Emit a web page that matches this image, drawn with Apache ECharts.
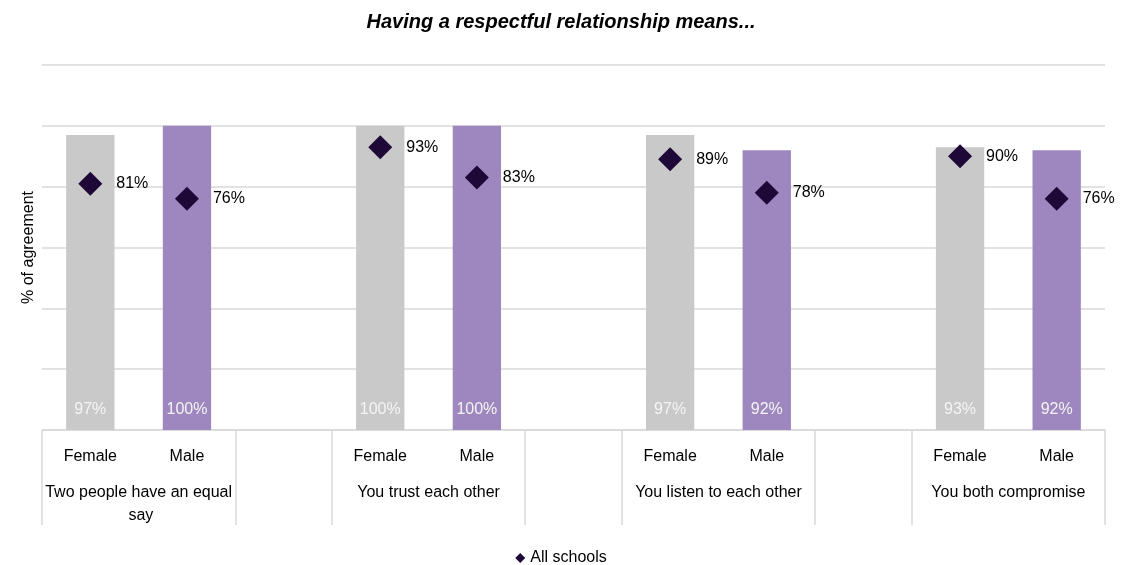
<!DOCTYPE html>
<html>
<head>
<meta charset="utf-8">
<script src="https://cdn.jsdelivr.net/npm/echarts@6/dist/echarts.min.js"></script>
<style>
  html, body { margin: 0; padding: 0; background: #fff; }
  #chart { width: 1122px; height: 565px; }
</style>
</head>
<body>
<div id="chart"></div>
<script>
// Statements and the responses by gender
const groupLabels = ['Two people have an equal say', 'You trust each other', 'You listen to each other', 'You both compromise'];
const genderLabels = ['Female', 'Male'];
const femaleValues = [97, 100, 97, 93];
const maleValues = [100, 100, 92, 92];
// "All schools" benchmark for each gender bar
const allSchoolsFemale = [81, 93, 89, 90];
const allSchoolsMale = [76, 83, 78, 76];
const yTicks = [0, 20, 40, 60, 80, 100, 120];

const FONT = "'Liberation Sans', Arial, sans-serif";
const GREY = '#c9c9c9';
const PURPLE = '#9e87bf';
const DIAMOND = '#1d0838';

// Slots: Female, Male, spacer, Female, Male, spacer, ... (no spacer after the last group)
const categories = [];
const barData = [];
const pointData = [];
const groupStart = [];   // category index where each group begins
const boundaryIdx = new Set([0]);
groupLabels.forEach((g, i) => {
  groupStart.push(categories.length);
  categories.push(genderLabels[0]);
  barData.push({ value: femaleValues[i], itemStyle: { color: GREY } });
  pointData.push(allSchoolsFemale[i]);
  categories.push(genderLabels[1]);
  barData.push({ value: maleValues[i], itemStyle: { color: PURPLE } });
  pointData.push(allSchoolsMale[i]);
  boundaryIdx.add(categories.length);
  if (i < groupLabels.length - 1) {
    categories.push('');
    barData.push('-');
    pointData.push('-');
    boundaryIdx.add(categories.length);
  }
});
const slotCount = categories.length;

const chart = echarts.init(document.getElementById('chart'));
chart.setOption({
  animation: false,
  textStyle: { fontFamily: FONT },
  title: {
    text: 'Having a respectful relationship means...',
    left: 'center',
    top: 7,
    textStyle: { fontSize: 20, fontWeight: 'bold', fontStyle: 'italic', color: '#000', fontFamily: FONT }
  },
  legend: {
    data: ['All schools'],
    bottom: -6,
    left: 'center',
    icon: 'diamond',
    itemWidth: 10,
    itemHeight: 10,
    itemGap: 4,
    itemStyle: { color: DIAMOND, opacity: 1 },
    textStyle: { fontSize: 16, color: '#000', fontFamily: FONT }
  },
  grid: { left: 42, right: 17, top: 65, bottom: 135, containLabel: false, outerBoundsMode: 'none' },
  xAxis: [
    {
      type: 'category',
      data: categories,
      position: 'bottom',
      axisLine: { show: true, lineStyle: { color: '#d9d9d9', width: 1.5 } },
      axisTick: {
        show: true,
        length: 95,
        interval: (idx) => boundaryIdx.has(idx),
        lineStyle: { color: '#d9d9d9', width: 1.5 }
      },
      axisLabel: { interval: 0, margin: 19, fontSize: 16, color: '#000', fontFamily: FONT },
      splitLine: { show: false }
    },
    {
      type: 'value',
      position: 'bottom',
      min: 0,
      max: slotCount,
      interval: 1,
      axisLine: { show: false },
      axisTick: { show: false },
      splitLine: { show: false },
      axisLabel: {
        margin: 51,
        fontSize: 16,
        lineHeight: 23,
        color: '#000',
        fontFamily: FONT,
        width: 192,
        overflow: 'break',
        showMinLabel: true,
        showMaxLabel: true,
        formatter: (v) => {
          const i = groupStart.indexOf(v - 1);
          return i >= 0 ? groupLabels[i] : '';
        }
      }
    }
  ],
  yAxis: {
    type: 'value',
    min: yTicks[0],
    max: yTicks[yTicks.length - 1],
    interval: yTicks[1] - yTicks[0],
    name: '% of agreement',
    nameLocation: 'middle',
    nameGap: 5,
    nameRotate: 90,
    nameTextStyle: { fontSize: 16, color: '#000', fontFamily: FONT },
    axisLine: { show: false },
    axisTick: { show: false },
    axisLabel: { show: false },
    splitLine: { lineStyle: { color: '#d9d9d9', width: 1.5 } }
  },
  series: [
    {
      name: 'Gender',
      type: 'bar',
      xAxisIndex: 0,
      barWidth: '50%',
      data: barData,
      label: {
        show: true,
        position: 'insideBottom',
        distance: 12,
        formatter: '{c}%',
        fontSize: 16,
        color: '#f4f4f4',
        fontFamily: FONT
      },
      z: 2
    },
    {
      name: 'All schools',
      type: 'scatter',
      xAxisIndex: 0,
      symbol: 'diamond',
      symbolSize: 24,
      itemStyle: { color: DIAMOND, opacity: 1 },
      data: pointData,
      label: {
        show: true,
        position: 'right',
        distance: 14,
        formatter: '{c}%',
        fontSize: 16,
        color: '#000',
        fontFamily: FONT
      },
      z: 5
    }
  ]
});
</script>
</body>
</html>
